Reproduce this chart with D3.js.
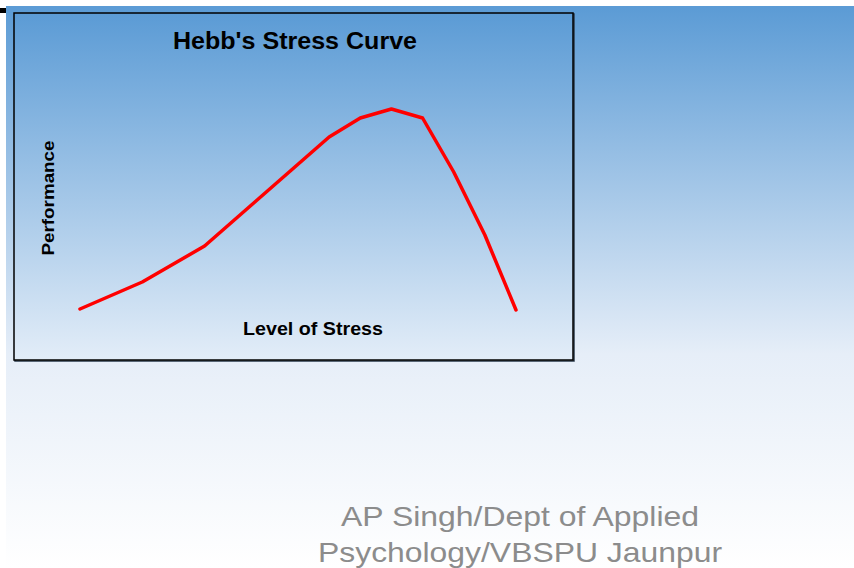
<html>
<head>
<script src="https://d3js.org/d3.v7.min.js"></script>
<style>
  body { margin: 0; background: #fff; }
  svg { display: block; }
</style>
</head>
<body>
<script>
    // stress level (x) and performance (y)
    var stress = [0, 2, 4, 8, 9, 10, 11, 12, 13, 14];
    var performance = [0.84, 1.92, 3.36, 7.72, 8.48, 8.84, 8.48, 6.32, 3.8, 0.8];

    var title = "Hebb's Stress Curve";
    var xLabel = "Level of Stress";
    var yLabel = "Performance";
    var footer = ["AP Singh/Dept of Applied", "Psychology/VBSPU Jaunpur"];

    var data = stress.map(function (s, i) { return {s: s, p: performance[i]}; });

    var svg = d3.select("body").append("svg")
        .attr("width", 854)
        .attr("height", 568);

    var defs = svg.append("defs");

    var slideGrad = defs.append("linearGradient")
        .attr("id", "slideGrad").attr("x1", 0).attr("y1", 0).attr("x2", 0).attr("y2", 1);
    slideGrad.append("stop").attr("offset", "0%").attr("stop-color", "#5b9bd5");
    slideGrad.append("stop").attr("offset", "62%").attr("stop-color", "#e6eef8");
    slideGrad.append("stop").attr("offset", "100%").attr("stop-color", "#ffffff");

    var boxGrad = defs.append("linearGradient")
        .attr("id", "boxGrad").attr("x1", 0).attr("y1", 0).attr("x2", 0).attr("y2", 1);
    boxGrad.append("stop").attr("offset", "0%").attr("stop-color", "#5b9bd5");
    boxGrad.append("stop").attr("offset", "100%").attr("stop-color", "#e3edf8");

    // slide background
    svg.append("rect")
        .attr("x", 6).attr("y", 6)
        .attr("width", 848).attr("height", 562)
        .attr("fill", "url(#slideGrad)");

    svg.append("rect")
        .attr("x", 0).attr("y", 8)
        .attr("width", 6).attr("height", 5)
        .attr("fill", "#000");

    // chart box
    var box = {x: 14, y: 13, w: 559, h: 347};

    svg.append("rect")
        .attr("x", box.x + 1).attr("y", box.y + 1)
        .attr("width", box.w).attr("height", box.h)
        .attr("fill", "none")
        .attr("stroke", "#2b3b4b")
        .attr("stroke-width", 1.5);

    svg.append("rect")
        .attr("x", box.x).attr("y", box.y)
        .attr("width", box.w).attr("height", box.h)
        .attr("fill", "url(#boxGrad)")
        .attr("stroke", "#000")
        .attr("stroke-width", 1.5);

    var x = d3.scaleLinear().domain([0, 14]).range([80, 516]);
    var y = d3.scaleLinear().domain([0, 10]).range([330, 80]);

    var line = d3.line()
        .x(function (d) { return x(d.s); })
        .y(function (d) { return y(d.p); });

    svg.append("path").datum(data)
        .attr("fill", "none")
        .attr("stroke", "#ff0000")
        .attr("stroke-width", 3.5)
        .attr("stroke-linejoin", "round")
        .attr("stroke-linecap", "round")
        .attr("d", line);

    var font = "Liberation Sans, Arial, sans-serif";

    svg.append("text")
        .attr("x", 295).attr("y", 49)
        .attr("text-anchor", "middle")
        .attr("font-family", font)
        .attr("font-weight", "bold")
        .attr("font-size", 23)
        .attr("textLength", 244)
        .attr("lengthAdjust", "spacingAndGlyphs")
        .attr("fill", "#000")
        .text(title);

    svg.append("text")
        .attr("x", 313).attr("y", 335)
        .attr("text-anchor", "middle")
        .attr("font-family", font)
        .attr("font-weight", "bold")
        .attr("font-size", 18)
        .attr("textLength", 140)
        .attr("lengthAdjust", "spacingAndGlyphs")
        .attr("fill", "#000")
        .text(xLabel);

    svg.append("text")
        .attr("transform", "translate(54,198) rotate(-90)")
        .attr("text-anchor", "middle")
        .attr("font-family", font)
        .attr("font-weight", "bold")
        .attr("font-size", 17)
        .attr("textLength", 115)
        .attr("lengthAdjust", "spacingAndGlyphs")
        .attr("fill", "#000")
        .text(yLabel);

    var footerLen = [358, 404];

    svg.selectAll(".footer")
        .data(footer)
        .enter().append("text")
        .attr("class", "footer")
        .attr("x", 520)
        .attr("y", function (d, i) { return 526 + i * 36; })
        .attr("text-anchor", "middle")
        .attr("font-family", font)
        .attr("font-size", 28)
        .attr("textLength", function (d, i) { return footerLen[i]; })
        .attr("lengthAdjust", "spacingAndGlyphs")
        .attr("fill", "#8c8c8c")
        .text(function (d) { return d; });
</script>
</body>
</html>
